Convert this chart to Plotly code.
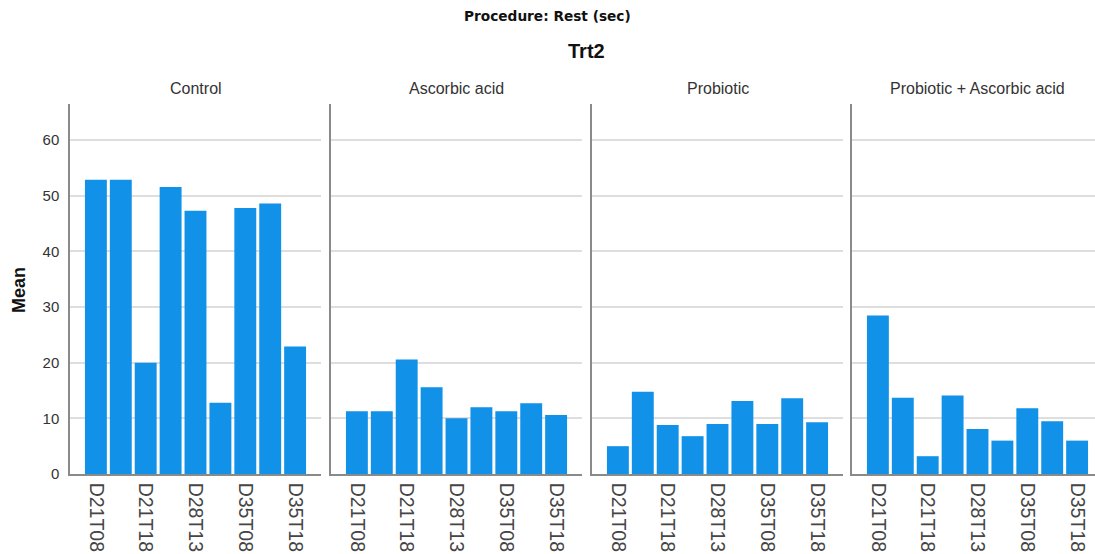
import plotly.graph_objects as go

# Categories (day x time) and treatment groups
categories = ["D21T08", "D21T13", "D21T18", "D28T08", "D28T13",
              "D28T18", "D35T08", "D35T13", "D35T18"]
tick_labels = categories[0::2]
groups = ["Control", "Ascorbic acid", "Probiotic", "Probiotic + Ascorbic acid"]

# Mean rest time (sec) per category for each treatment
control = [52.9, 52.9, 20.0, 51.6, 47.3, 12.8, 47.8, 48.6, 22.9]
ascorbic_acid = [11.3, 11.3, 20.6, 15.6, 10.0, 12.0, 11.3, 12.7, 10.6]
probiotic = [5.0, 14.8, 8.8, 6.8, 9.0, 13.1, 9.0, 13.6, 9.3]
probiotic_ascorbic = [28.5, 13.7, 3.2, 14.1, 8.1, 6.0, 11.8, 9.5, 6.0]
series = [control, ascorbic_acid, probiotic, probiotic_ascorbic]

y_ticks = [0, 10, 20, 30, 40, 50, 60]

# Canvas and panel geometry (pixels)
W, H = 1095, 554
panel_left = [70, 331, 592, 852]
panel_w = 251
plot_top, plot_bottom = 104, 474
x_lo, x_hi = -1.04, 9.04
y_max = 66.5

BAR = "#1192e8"
GRID = "#dedede"
AXIS = "#8a8a8a"
TXT = "#333333"
FONT = "Liberation Sans, Arial, sans-serif"

fig = go.Figure()
layout = dict(
    width=W, height=H,
    margin=dict(l=0, r=0, t=0, b=0),
    paper_bgcolor="white", plot_bgcolor="white",
    showlegend=False, bargap=0.12,
    font=dict(family=FONT, color=TXT),
)

y_dom = [1 - plot_bottom / H, 1 - plot_top / H]
annotations = []

for i, (name, vals) in enumerate(zip(groups, series)):
    n = "" if i == 0 else str(i + 1)
    left = panel_left[i]
    right = min(left + panel_w, W)
    frac = (right - left) / panel_w
    fig.add_trace(go.Bar(
        x=categories, y=vals,
        marker=dict(color=BAR, line=dict(width=0)),
        xaxis="x" + n, yaxis="y" + n,
        hovertemplate="%{x}: %{y}<extra>" + name + "</extra>",
    ))
    layout["xaxis" + n] = dict(
        domain=[left / W, right / W], anchor="y" + n,
        type="category", categoryorder="array", categoryarray=categories,
        range=[x_lo, x_lo + (x_hi - x_lo) * frac],
        tickmode="array", tickvals=tick_labels, ticktext=tick_labels,
        tickangle=90, ticks="", ticklabelstandoff=3,
        tickfont=dict(family=FONT, size=19.5, color="#454545"),
        showline=True, linecolor=AXIS, linewidth=1.5,
        showgrid=False, zeroline=False, automargin=False, fixedrange=True,
    )
    layout["yaxis" + n] = dict(
        domain=y_dom, anchor="x" + n,
        range=[0, y_max], tickvals=y_ticks,
        showticklabels=(i == 0), ticks="", ticklabelstandoff=6,
        tickfont=dict(family=FONT, size=15, color=TXT),
        showline=True, linecolor=AXIS, linewidth=1.5,
        showgrid=True, gridcolor=GRID, gridwidth=2,
        zeroline=False, automargin=False, fixedrange=True,
    )
    annotations.append(dict(
        text=name, xref="paper", yref="paper",
        x=(left + panel_w / 2) / W, y=1 - 88 / H,
        xanchor="center", yanchor="middle", showarrow=False,
        font=dict(family=FONT, size=16, color=TXT),
    ))

annotations += [
    dict(text="<b>Procedure: Rest (sec)</b>", xref="paper", yref="paper",
         x=0.5, y=1 - 16 / H, xanchor="center", yanchor="middle",
         showarrow=False,
         font=dict(family="DejaVu Sans, sans-serif", size=13.7, color="#111111")),
    dict(text="<b>Trt2</b>", xref="paper", yref="paper",
         x=(panel_left[0] + (panel_left[-1] + panel_w)) / 2 / W, y=1 - 51 / H,
         xanchor="center", yanchor="middle", showarrow=False,
         font=dict(family=FONT, size=20, color="#111111")),
    dict(text="<b>Mean</b>", xref="paper", yref="paper",
         x=19 / W, y=1 - 290 / H, xanchor="center", yanchor="middle",
         textangle=-90, showarrow=False,
         font=dict(family=FONT, size=18, color="#111111")),
]
layout["annotations"] = annotations

fig.update_layout(**layout)
fig.write_html("out.html")
